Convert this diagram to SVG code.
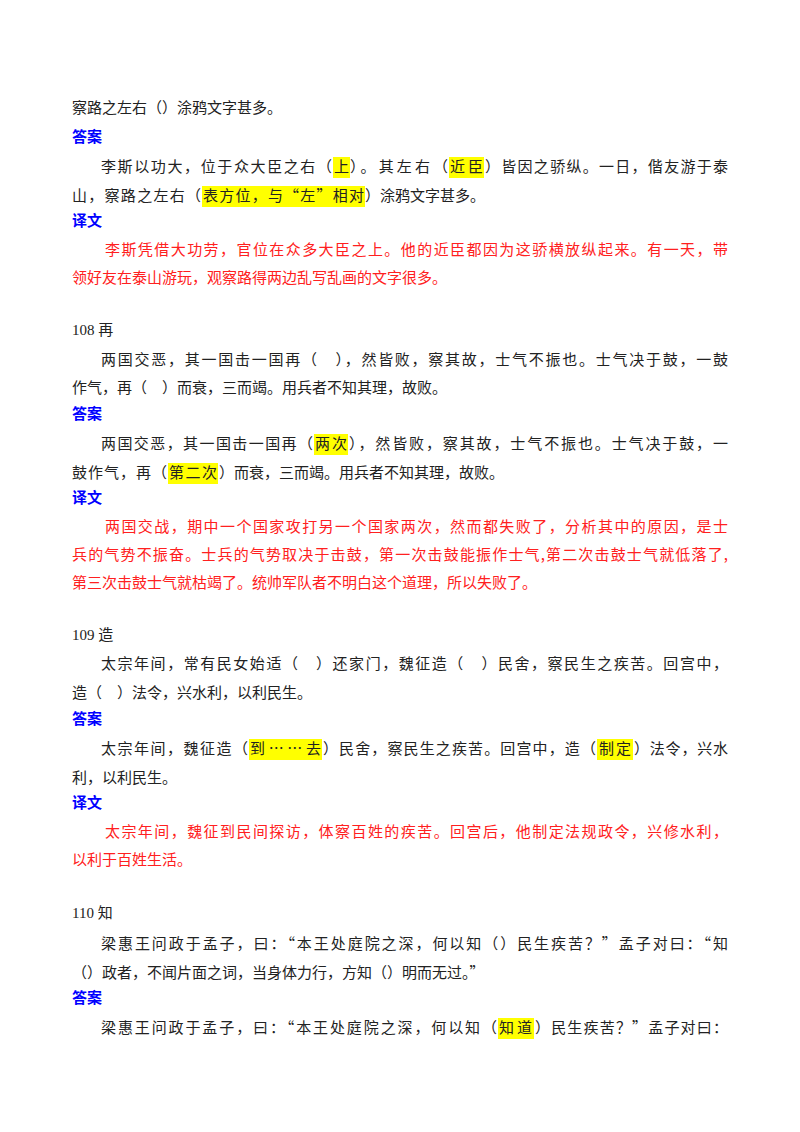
<svg xmlns="http://www.w3.org/2000/svg" width="800" height="1132" viewBox="0 0 800 1132">
<style>
text{font-family:"Noto Sans CJK SC","Liberation Serif",sans-serif;font-size:15px;fill:#222}
.n{font-family:"Liberation Serif",serif}
.h{font-weight:bold;fill:#0000ff}
.r{fill:#ff2020}
.hl{fill:#ffff00}
</style>
<rect width="800" height="1132" fill="#fff"/>
<g id="highlights">
<rect class="hl" x="333" y="157" width="17" height="21"/>
<rect class="hl" x="449" y="157" width="35" height="21"/>
<rect class="hl" x="202" y="186" width="163" height="21"/>
<rect class="hl" x="314" y="434" width="34" height="21"/>
<rect class="hl" x="168" y="463" width="50" height="21"/>
<rect class="hl" x="249" y="739" width="73" height="21"/>
<rect class="hl" x="597" y="739" width="36" height="21"/>
<rect class="hl" x="498" y="1018" width="36" height="21"/>
</g>
<g id="text">
<text x="72" y="113">察路之左右（）涂鸦文字甚多。</text>
<text class="h" x="72" y="142">答案</text>
<text x="101" y="172" textLength="231" lengthAdjust="spacing">李斯以功大，位于众大臣之右（</text>
<text x="334" y="172">上</text>
<text x="350" y="172" textLength="98" lengthAdjust="spacing">）。其左右（</text>
<text x="450" y="172" textLength="33" lengthAdjust="spacing">近臣</text>
<text x="485" y="172" textLength="243" lengthAdjust="spacing">）皆因之骄纵。一日，偕友游于泰</text>
<text x="72" y="201" textLength="129" lengthAdjust="spacing">山，察路之左右（</text>
<text x="203" y="201" textLength="161" lengthAdjust="spacing">表方位，与“左”相对</text>
<text x="365" y="201">）涂鸦文字甚多。</text>
<text class="h" x="72" y="226">译文</text>
<text class="r" x="105" y="255" textLength="623" lengthAdjust="spacing">李斯凭借大功劳，官位在众多大臣之上。他的近臣都因为这骄横放纵起来。有一天，带</text>
<text class="r" x="72" y="283">领好友在泰山游玩，观察路得两边乱写乱画的文字很多。</text>
<text x="72" y="335"><tspan class="n">108 </tspan>再</text>
<text x="101" y="365" textLength="627" lengthAdjust="spacing">两国交恶，其一国击一国再（　），然皆败，察其故，士气不振也。士气决于鼓，一鼓</text>
<text x="72" y="393">作气，再（　）而衰，三而竭。用兵者不知其理，故败。</text>
<text class="h" x="72" y="419">答案</text>
<text x="101" y="449" textLength="212" lengthAdjust="spacing">两国交恶，其一国击一国再（</text>
<text x="315" y="449" textLength="32" lengthAdjust="spacing">两次</text>
<text x="349" y="449" textLength="379" lengthAdjust="spacing">），然皆败，察其故，士气不振也。士气决于鼓，一</text>
<text x="72" y="478" textLength="95" lengthAdjust="spacing">鼓作气，再（</text>
<text x="169" y="478" textLength="48" lengthAdjust="spacing">第二次</text>
<text x="219" y="478">）而衰，三而竭。用兵者不知其理，故败。</text>
<text class="h" x="72" y="503">译文</text>
<text class="r" x="105" y="532" textLength="623" lengthAdjust="spacing">两国交战，期中一个国家攻打另一个国家两次，然而都失败了，分析其中的原因，是士</text>
<text class="r" x="72" y="560" textLength="656" lengthAdjust="spacing">兵的气势不振奋。士兵的气势取决于击鼓，第一次击鼓能振作士气,第二次击鼓士气就低落了,</text>
<text class="r" x="72" y="588">第三次击鼓士气就枯竭了。统帅军队者不明白这个道理，所以失败了。</text>
<text x="72" y="640"><tspan class="n">109 </tspan>造</text>
<text x="101" y="669" textLength="627" lengthAdjust="spacing">太宗年间，常有民女始适（　）还家门，魏征造（　）民舍，察民生之疾苦。回宫中，</text>
<text x="72" y="698">造（　）法令，兴水利，以利民生。</text>
<text class="h" x="72" y="724">答案</text>
<text x="101" y="754" textLength="147" lengthAdjust="spacing">太宗年间，魏征造（</text>
<text x="250" y="754" textLength="71" lengthAdjust="spacing">到……去</text>
<text x="323" y="754" textLength="273" lengthAdjust="spacing">）民舍，察民生之疾苦。回宫中，造（</text>
<text x="599" y="754" textLength="32" lengthAdjust="spacing">制定</text>
<text x="634" y="754" textLength="94" lengthAdjust="spacing">）法令，兴水</text>
<text x="72" y="783">利，以利民生。</text>
<text class="h" x="72" y="808">译文</text>
<text class="r" x="105" y="837" textLength="623" lengthAdjust="spacing">太宗年间，魏征到民间探访，体察百姓的疾苦。回宫后，他制定法规政令，兴修水利，</text>
<text class="r" x="72" y="865">以利于百姓生活。</text>
<text x="72" y="918"><tspan class="n">110 </tspan>知</text>
<text x="101" y="949" textLength="627" lengthAdjust="spacing">梁惠王问政于孟子，曰：“本王处庭院之深，何以知（）民生疾苦？”孟子对曰：“知</text>
<text x="72" y="978">（）政者，不闻片面之词，当身体力行，方知（）明而无过。”</text>
<text class="h" x="72" y="1003">答案</text>
<text x="101" y="1033" textLength="396" lengthAdjust="spacing">梁惠王问政于孟子，曰：“本王处庭院之深，何以知（</text>
<text x="499" y="1033" textLength="33" lengthAdjust="spacing">知道</text>
<text x="535" y="1033" textLength="193" lengthAdjust="spacing">）民生疾苦？”孟子对曰：</text>
</g>
</svg>
